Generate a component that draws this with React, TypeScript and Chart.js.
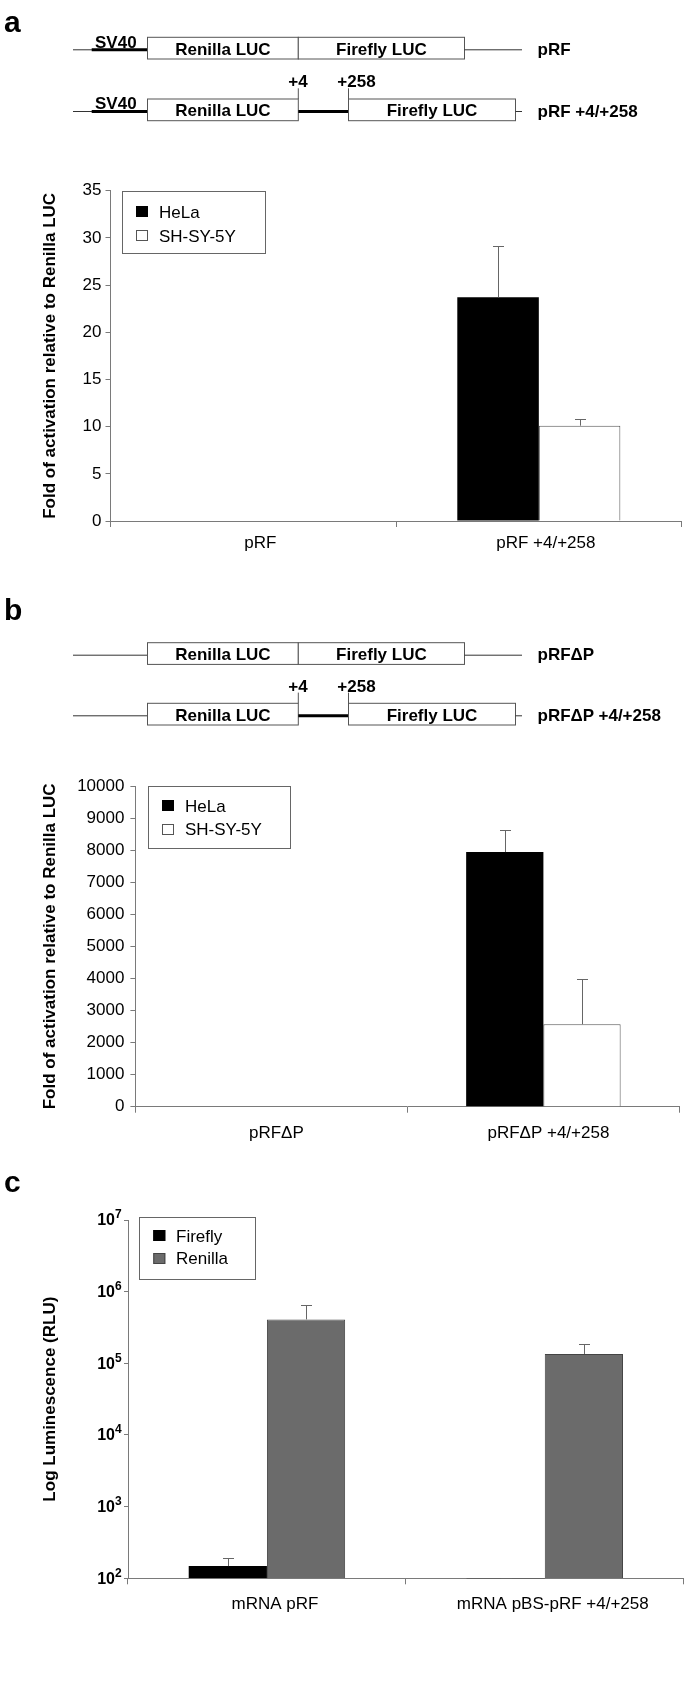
import React, { useEffect, useRef } from 'react';
import { Chart, registerables } from 'chart.js';

Chart.register(...registerables);

if (typeof document !== 'undefined') {
  document.body.style.margin = '0';
}

const FONT = "'Liberation Sans', Arial, Helvetica, sans-serif";
const AXIS = '#7a7a7a';

// ---------- Panel a data ----------
const catsA = ['pRF', 'pRF +4/+258'];
const helaA = [0, 23.7];
const helaErrA = [0, 29.1];
const shsyA = [0, 10.1];
const shsyErrA = [0, 10.85];
const yMaxA = 35;
const yStepA = 5;

// ---------- Panel b data ----------
const catsB = ['pRF\u0394P', 'pRF\u0394P +4/+258'];
const helaB = [0, 7940];
const helaErrB = [0, 8620];
const shsyB = [0, 2570];
const shsyErrB = [0, 3970];
const yMaxB = 10000;
const yStepB = 1000;

// ---------- Panel c data ----------
const catsC = ['mRNA pRF', 'mRNA pBS-pRF +4/+258'];
const fireflyC = [148, 60];
const fireflyErrC = [190, 101];
const renillaC = [410000, 135000];
const renillaErrC = [650000, 185000];
const logExpC = [2, 3, 4, 5, 6, 7];

const errorBarPlugin = {
  id: 'errorBars',
  afterDatasetsDraw(chart: any) {
    const { ctx, chartArea } = chart;
    const yScale = chart.scales.y;
    chart.data.datasets.forEach((ds: any, i: number) => {
      const errs = ds.errorTop;
      if (!errs) return;
      const meta = chart.getDatasetMeta(i);
      meta.data.forEach((bar: any, j: number) => {
        const top = errs[j];
        const v = ds.data[j];
        if (!top || top <= v) return;
        const yTop = yScale.getPixelForValue(top);
        const yVal = Math.min(yScale.getPixelForValue(v), chartArea.bottom);
        const x = Math.round(bar.x) + 0.5;
        ctx.save();
        ctx.strokeStyle = '#666';
        ctx.lineWidth = 1;
        ctx.beginPath();
        ctx.moveTo(x, yVal);
        ctx.lineTo(x, Math.round(yTop) + 0.5);
        ctx.moveTo(x - 5.5, Math.round(yTop) + 0.5);
        ctx.lineTo(x + 5.5, Math.round(yTop) + 0.5);
        ctx.stroke();
        ctx.restore();
      });
    });
  },
};

const boxLegendPlugin = {
  id: 'boxLegend',
  afterDraw(chart: any, _args: any, opts: any) {
    if (!opts || !opts.w) return;
    const { ctx, chartArea } = chart;
    const x0 = Math.round(chartArea.left + opts.dx);
    const y0 = Math.round(chartArea.top + opts.dy);
    ctx.save();
    ctx.fillStyle = '#fff';
    ctx.fillRect(x0, y0, opts.w, opts.h);
    ctx.strokeStyle = '#666';
    ctx.lineWidth = 1;
    ctx.strokeRect(x0 + 0.5, y0 + 0.5, opts.w, opts.h);
    chart.data.datasets.forEach((ds: any, i: number) => {
      const cy = y0 + opts.rows[i];
      const sx = x0 + opts.sq;
      ctx.fillStyle = ds.backgroundColor;
      ctx.fillRect(sx, Math.round(cy - 6), 12, 11);
      ctx.strokeStyle = ds.borderColor;
      ctx.strokeRect(sx + 0.5, Math.round(cy - 6) + 0.5, 11, 10);
      ctx.fillStyle = '#000';
      ctx.font = `17px ${FONT}`;
      ctx.textBaseline = 'middle';
      ctx.textAlign = 'left';
      ctx.fillText(ds.label, x0 + opts.tx, cy + 1);
    });
    ctx.restore();
  },
};

const logLabelPlugin = {
  id: 'logLabels',
  afterDraw(chart: any, _args: any, opts: any) {
    if (!opts || !opts.enabled) return;
    const { ctx, chartArea } = chart;
    const y = chart.scales.y;
    ctx.save();
    ctx.fillStyle = '#000';
    y.ticks.forEach((t: any) => {
      const py = y.getPixelForValue(t.value);
      const exp = String(Math.round(Math.log10(t.value)));
      const baseRight = chartArea.left - 13;
      ctx.font = `bold 16px ${FONT}`;
      ctx.textAlign = 'right';
      ctx.textBaseline = 'middle';
      ctx.fillText('10', baseRight, py + 1);
      ctx.font = `bold 12px ${FONT}`;
      ctx.textAlign = 'left';
      ctx.fillText(exp, baseRight, py - 5);
    });
    ctx.restore();
  },
};

Chart.register(errorBarPlugin, boxLegendPlugin, logLabelPlugin);

function xScale(height: number, pad: number, labelOffset: number) {
  return {
    grid: { display: true, drawOnChartArea: false, drawTicks: true, tickLength: 6, color: AXIS, offset: true },
    border: { color: AXIS, width: 1 },
    ticks: { font: { family: FONT, size: 17 }, color: '#000', padding: pad, maxRotation: 0, autoSkip: false, labelOffset },
    afterFit: (s: any) => { s.height = height; },
  };
}

function titleOpt(text: string) {
  return {
    display: true,
    text,
    font: { family: FONT, size: 17, weight: 'bold' as const },
    color: '#000',
    padding: { top: 4, bottom: 4 },
  };
}

const plainTick = (v: any) => String(v);

function configA(): any {
  return {
    type: 'bar',
    data: {
      labels: catsA,
      datasets: [
        { label: 'HeLa', data: helaA, errorTop: helaErrA, backgroundColor: '#000', borderColor: '#000', borderWidth: 0 },
        { label: 'SH-SY-5Y', data: shsyA, errorTop: shsyErrA, backgroundColor: '#fff', borderColor: '#555', borderWidth: 1, borderSkipped: 'bottom' },
      ],
    },
    options: {
      animation: false,
      responsive: false,
      events: [],
      layout: { padding: { top: 30.7, bottom: 9, left: 36, right: 3.4 } },
      datasets: { bar: { barPercentage: 1, categoryPercentage: 0.571 } },
      plugins: {
        legend: { display: false },
        tooltip: { enabled: false },
        boxLegend: { dx: 11, dy: 0, w: 143, h: 62, sq: 14, tx: 37, rows: [21, 45] },
      },
      scales: {
        x: xScale(50, 6, 7),
        y: {
          min: 0,
          max: yMaxA,
          ticks: { stepSize: yStepA, font: { family: FONT, size: 17 }, color: '#000', padding: 4, callback: plainTick },
          grid: { drawOnChartArea: false, drawTicks: true, tickLength: 5, color: AXIS },
          border: { color: AXIS, width: 1 },
          title: titleOpt('Fold of activation relative to Renilla LUC'),
          afterFit: (s: any) => { s.width = 74.5; },
        },
      },
    },
  };
}

function configB(): any {
  return {
    type: 'bar',
    data: {
      labels: catsB,
      datasets: [
        { label: 'HeLa', data: helaB, errorTop: helaErrB, backgroundColor: '#000', borderColor: '#000', borderWidth: 0 },
        { label: 'SH-SY-5Y', data: shsyB, errorTop: shsyErrB, backgroundColor: '#fff', borderColor: '#555', borderWidth: 1, borderSkipped: 'bottom' },
      ],
    },
    options: {
      animation: false,
      responsive: false,
      events: [],
      layout: { padding: { top: 26, bottom: 8.3, left: 36, right: 5.6 } },
      datasets: { bar: { barPercentage: 1, categoryPercentage: 0.568 } },
      plugins: {
        legend: { display: false },
        tooltip: { enabled: false },
        boxLegend: { dx: 13, dy: 0, w: 142, h: 62, sq: 14, tx: 37, rows: [20, 43.5] },
      },
      scales: {
        x: xScale(45, 10, 5),
        y: {
          min: 0,
          max: yMaxB,
          ticks: { stepSize: yStepB, font: { family: FONT, size: 17 }, color: '#000', padding: 6, callback: plainTick },
          grid: { drawOnChartArea: false, drawTicks: true, tickLength: 5, color: AXIS },
          border: { color: AXIS, width: 1 },
          title: titleOpt('Fold of activation relative to Renilla LUC'),
          afterFit: (s: any) => { s.width = 99.4; },
        },
      },
    },
  };
}

function configC(): any {
  return {
    type: 'bar',
    data: {
      labels: catsC,
      datasets: [
        { label: 'Firefly', data: fireflyC, errorTop: fireflyErrC, backgroundColor: '#000', borderColor: '#000', borderWidth: 0 },
        { label: 'Renilla', data: renillaC, errorTop: renillaErrC, backgroundColor: '#6b6b6b', borderColor: '#444', borderWidth: 1, borderSkipped: 'bottom' },
      ],
    },
    options: {
      animation: false,
      responsive: false,
      events: [],
      layout: { padding: { top: 30, bottom: 11.7, left: 36, right: 1.3 } },
      datasets: { bar: { barPercentage: 1, categoryPercentage: 0.563 } },
      plugins: {
        legend: { display: false },
        tooltip: { enabled: false },
        boxLegend: { dx: 11.3, dy: -3, w: 116, h: 62, sq: 14.3, tx: 37, rows: [19, 41.5] },
        logLabels: { enabled: true },
      },
      scales: {
        x: xScale(40, 10, 8),
        y: {
          type: 'logarithmic',
          min: Math.pow(10, logExpC[0]),
          max: Math.pow(10, logExpC[logExpC.length - 1]),
          afterBuildTicks: (s: any) => {
            s.ticks = logExpC.map((e) => ({ value: Math.pow(10, e) }));
          },
          ticks: { display: false },
          grid: { drawOnChartArea: false, drawTicks: true, tickLength: 4, color: AXIS },
          border: { color: AXIS, width: 1 },
          title: titleOpt('Log Luminescence (RLU)'),
          afterFit: (s: any) => { s.width = 92; },
        },
      },
    },
  };
}

function ChartCanvas({ top, height, make }: { top: number; height: number; make: () => any }) {
  const ref = useRef<HTMLCanvasElement | null>(null);
  useEffect(() => {
    if (!ref.current) return;
    const chart = new Chart(ref.current, make());
    return () => chart.destroy();
  }, []);
  return (
    <canvas
      ref={ref}
      width={685}
      height={height}
      style={{ position: 'absolute', left: 0, top, width: 685, height, display: 'block' }}
    />
  );
}

const T = { fontFamily: FONT, fontWeight: 700, fontSize: 17, fill: '#000' } as const;

function Construct({ y0, y1, sv40, name1, name2 }: { y0: number; y1: number; sv40: boolean; name1: string; name2: string }) {
  const bh = 21.7;
  const l0 = y0 + 12.5;
  const l1 = y1 + 12.5;
  return (
    <g>
      {/* row 1 */}
      <line x1={73} y1={l0} x2={147.5} y2={l0} stroke="#333" strokeWidth={1} />
      {sv40 && <line x1={91.7} y1={l0} x2={147.5} y2={l0} stroke="#000" strokeWidth={3} />}
      {sv40 && <text x={95} y={l0 - 2} {...T}>SV40</text>}
      <rect x={147.5} y={y0} width={150.8} height={bh} fill="#fff" stroke="#555" strokeWidth={1} />
      <rect x={298.3} y={y0} width={166.2} height={bh} fill="#fff" stroke="#555" strokeWidth={1} />
      <line x1={464.5} y1={l0} x2={522} y2={l0} stroke="#333" strokeWidth={1} />
      <text x={222.9} y={y0 + 17.3} textAnchor="middle" {...T}>Renilla LUC</text>
      <text x={381.4} y={y0 + 17.3} textAnchor="middle" {...T}>Firefly LUC</text>
      <text x={537.5} y={y0 + 17.5} {...T}>{name1}</text>
      {/* row 2 */}
      <line x1={73} y1={l1} x2={147.5} y2={l1} stroke="#333" strokeWidth={1} />
      {sv40 && <line x1={91.7} y1={l1} x2={147.5} y2={l1} stroke="#000" strokeWidth={3} />}
      {sv40 && <text x={95} y={l1 - 2.5} {...T}>SV40</text>}
      <rect x={147.5} y={y1} width={150.8} height={bh} fill="#fff" stroke="#555" strokeWidth={1} />
      <line x1={298.3} y1={l1} x2={348.5} y2={l1} stroke="#000" strokeWidth={3} />
      <rect x={348.5} y={y1} width={167} height={bh} fill="#fff" stroke="#555" strokeWidth={1} />
      <line x1={515.5} y1={l1} x2={522} y2={l1} stroke="#333" strokeWidth={1} />
      <line x1={298.3} y1={y1 - 10.7} x2={298.3} y2={y1} stroke="#555" strokeWidth={1} />
      <line x1={348.5} y1={y1 - 10.7} x2={348.5} y2={y1} stroke="#555" strokeWidth={1} />
      <text x={298} y={y1 - 11.8} textAnchor="middle" {...T}>+4</text>
      <text x={337.3} y={y1 - 11.8} {...T}>+258</text>
      <text x={222.9} y={y1 + 17.3} textAnchor="middle" {...T}>Renilla LUC</text>
      <text x={432} y={y1 + 17.3} textAnchor="middle" {...T}>Firefly LUC</text>
      <text x={537.5} y={y1 + 17.7} {...T}>{name2}</text>
    </g>
  );
}

export default function App() {
  return (
    <div style={{ position: 'relative', width: 685, height: 1703, background: '#fff', overflow: 'hidden' }}>
      <ChartCanvas top={160} height={420} make={configA} />
      <ChartCanvas top={760} height={400} make={configB} />
      <ChartCanvas top={1190} height={440} make={configC} />
      <svg width={685} height={1703} style={{ position: 'absolute', left: 0, top: 0, pointerEvents: 'none' }}>
        <text x={4} y={31.7} fontFamily={FONT} fontWeight={700} fontSize={30}>a</text>
        <text x={4} y={620} fontFamily={FONT} fontWeight={700} fontSize={30}>b</text>
        <text x={4} y={1191.7} fontFamily={FONT} fontWeight={700} fontSize={30}>c</text>
        <Construct y0={37.3} y1={99} sv40={true} name1="pRF" name2="pRF +4/+258" />
        <Construct y0={642.7} y1={703.3} sv40={false} name1={'pRF\u0394P'} name2={'pRF\u0394P +4/+258'} />
      </svg>
    </div>
  );
}
